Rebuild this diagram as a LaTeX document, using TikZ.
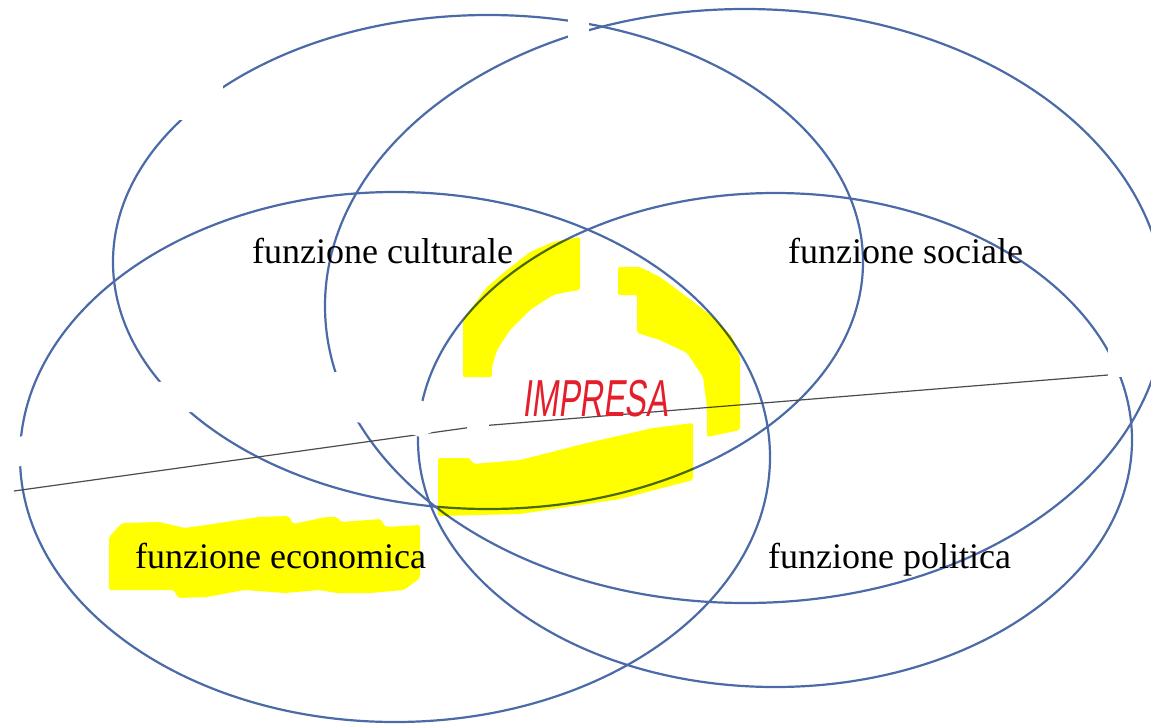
\documentclass[tikz,border=0pt]{standalone}
\usepackage{fontspec}
\setmainfont{Liberation Serif}
\newfontfamily\handfont[FakeSlant=0.2]{Liberation Sans}
\usepackage{tikz}
\usetikzlibrary{positioning}
\definecolor{ringblue}{RGB}{74,106,168}
\definecolor{marker}{RGB}{255,255,0}
\definecolor{pen}{RGB}{228,30,42}
\tikzset{ring/.style={draw=ringblue, line width=2.2pt}}
\tikzset{eraser/.style={fill=white, draw=none}}
\tikzset{highlight/.style={fill=marker, draw=none, rounded corners=2pt}}
\tikzset{funlabel/.style={font=\fontsize{36}{40}\selectfont, anchor=base west, inner sep=0pt}}

\begin{document}
\begin{tikzpicture}[x=1pt,y=-1pt]
  \fill[white] (0,0) rectangle (1151,723);
  \useasboundingbox (0,0) rectangle (1151,723);
  % the four functions
  \draw[ring] (488,262) ellipse [x radius=375pt, y radius=247pt];
  \draw[ring] (745,306) ellipse [x radius=420pt, y radius=297pt];
  \draw[ring] (395,457) ellipse [x radius=375pt, y radius=265pt];
  \draw[ring] (775,440) ellipse [x radius=357pt, y radius=247pt];
  % dividing line
  \coordinate (lineA) at (14,491);
  \coordinate (lineB) at (480,426);
  \coordinate (lineC) at (1108,375);
  \draw[black!70, line width=1.2pt] (lineA) -- (lineB) -- (lineC);
  % rubbed out bits
  \fill[eraser] (8,442) -- (60,420) -- (150,383) -- (175,380) -- (340,372)
    -- (360,378) -- (420,400) -- (432,405) -- (432,432) -- (420,437)
    -- (400,430) -- (356,422) -- (190,412) -- (100,440) -- (40,460)
    -- (8,470) -- cycle;
  \fill[eraser] (467,421) rectangle (489,433);
  \fill[eraser] (150,60) rectangle (223,120);
  \fill[eraser] (568,0) rectangle (589,40);
  \fill[eraser] (1108,330) rectangle (1151,377);
  % marker strokes
  \begin{scope}[blend mode=multiply]
    \fill[highlight] (463,377) -- (463,320) -- (487,287) -- (507,270)
      -- (530,252) -- (553,242) -- (580,237) -- (580,290) -- (567,292)
      -- (553,295) -- (530,310) -- (510,330) -- (497,350) -- (492,367)
      -- (492,377) -- cycle;
    \fill[highlight] (618,267) -- (640,267) -- (660,277) -- (687,297)
      -- (713,317) -- (732,337) -- (740,357) -- (740,430) -- (707,437)
      -- (707,407) -- (703,377) -- (687,353) -- (660,340) -- (637,333)
      -- (637,295) -- (618,295) -- cycle;
    \fill[highlight] (438,458) -- (470,458) -- (473,464) -- (520,460)
      -- (587,443) -- (653,428) -- (693,423) -- (693,480) -- (620,499)
      -- (520,514) -- (438,516) -- cycle;
    \fill[highlight] (109,537) -- (122,523) -- (159,522) -- (185,528)
      -- (226,522) -- (259,517) -- (289,516) -- (293,524) -- (326,517)
      -- (337,517) -- (341,522) -- (381,519) -- (385,527) -- (420,525)
      -- (420,578) -- (404,590) -- (370,593) -- (337,593) -- (319,590)
      -- (285,593) -- (244,590) -- (207,597) -- (178,598) -- (174,590)
      -- (141,590) -- (109,590) -- cycle;
  \end{scope}
  \node[funlabel] (cult) at (252,263) {funzione culturale};
  \node[funlabel] (soc) at (788,263) {funzione sociale};
  \node[funlabel] (econ) at (135,568) {funzione economica};
  \node[funlabel] (pol) at (768,568) {funzione politica};
  \node[text=pen, inner sep=0pt, font=\handfont\fontsize{52}{52}\selectfont]
    (impresa) at (595,399) {\scalebox{0.62}[1]{IMPRESA}};
\end{tikzpicture}
\end{document}
